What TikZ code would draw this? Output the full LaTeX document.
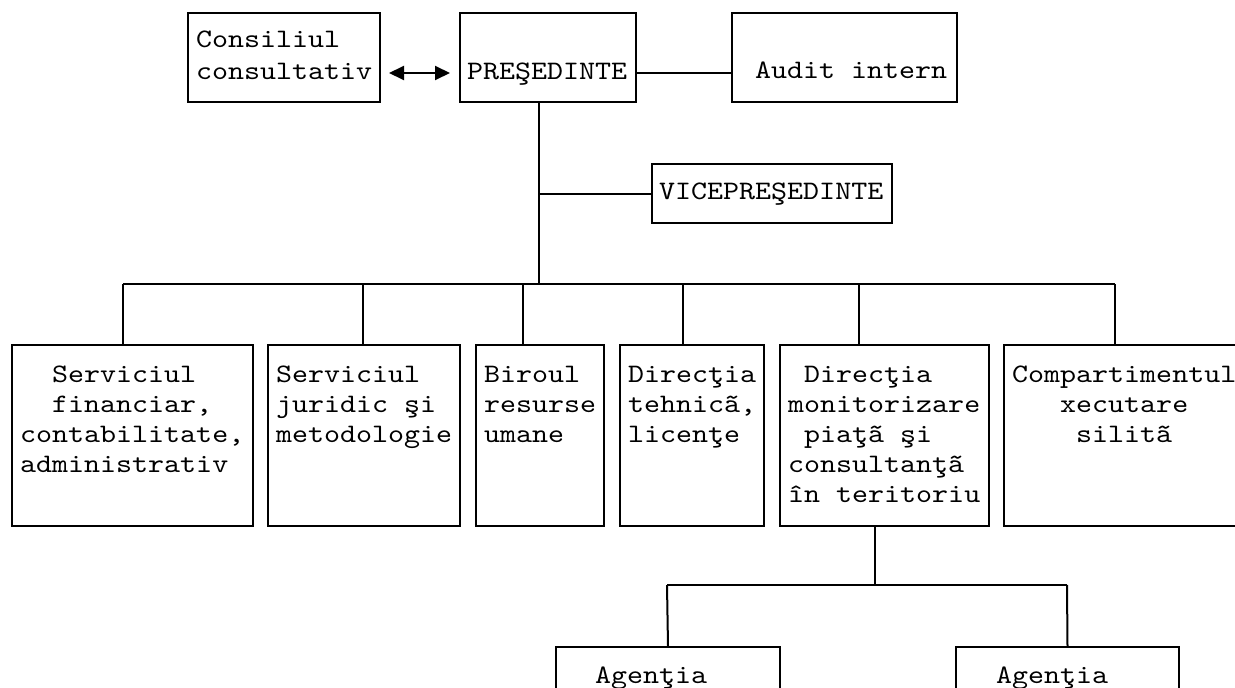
\documentclass[tikz,border=0pt]{standalone}
\usepackage{fontspec}
\setmainfont{lmmono10-regular.otf}[FakeStretch=1.143]
\usetikzlibrary{arrows.meta}
\newcommand\fzA{\fontsize{26.67bp}{31.5bp}\selectfont}
\newcommand\fzB{\fontsize{26.67bp}{30bp}\selectfont}
\newcommand\ml[1]{\begin{tabular}[t]{@{}l@{}}#1\end{tabular}}
\tikzset{
  box/.style={draw, line width=2bp, inner sep=0pt, anchor=north west},
  conn/.style={line width=2bp},
  txtA/.style={anchor=base west, inner sep=0pt, font=\fzA},
  txtB/.style={anchor=base west, inner sep=0pt, font=\fzB},
}
\begin{document}
\begin{tikzpicture}[x=1bp,y=-1bp]
\useasboundingbox (0,0) rectangle (1235,688);
\clip (0,0) rectangle (1235,688);
% boxes
\node[box, minimum width=192bp, minimum height=89bp] (cons) at (187,12) {};
\node[box, minimum width=176bp, minimum height=89bp] (pres) at (459,12) {};
\node[box, minimum width=225bp, minimum height=89bp] (audit) at (731,12) {};
\node[box, minimum width=240bp, minimum height=59bp] (vice) at (651,163) {};
\node[box, minimum width=241bp, minimum height=181bp] (b1) at (11,344) {};
\node[box, minimum width=192bp, minimum height=181bp] (b2) at (267,344) {};
\node[box, minimum width=128bp, minimum height=181bp] (b3) at (475,344) {};
\node[box, minimum width=144bp, minimum height=181bp] (b4) at (619,344) {};
\node[box, minimum width=209bp, minimum height=181bp] (b5) at (779,344) {};
\node[box, minimum width=260bp, minimum height=181bp] (b6) at (1003,344) {};
\node[box, minimum width=224bp, minimum height=100bp] (ag1) at (555,646) {};
\node[box, minimum width=223bp, minimum height=100bp] (ag2) at (955,646) {};
% texts
\node[txtA] (cons-t) at (196,48) {\ml{Consiliul\\consultativ}};
\node[txtA] (pres-t) at (467,80) {PREŞEDINTE};
\node[txtA] (audit-t) at (755,79) {Audit intern};
\node[txtA] (vice-t) at (659,200) {VICEPREŞEDINTE};
\node[txtB] (b1-t) at (20,382) {\ml{\hphantom{xx}Serviciul\\\hphantom{xx}financiar,\\contabilitate,\\administrativ}};
\node[txtB] (b2-t) at (276,382) {\ml{Serviciul\\juridic şi\\metodologie}};
\node[txtB] (b3-t) at (484,382) {\ml{Biroul\\resurse\\umane}};
\node[txtB] (b4-t) at (628,382) {\ml{Direcţia\\tehnicã,\\licenţe}};
\node[txtB] (b5-t) at (788,382) {\ml{\hphantom{x}Direcţia\\monitorizare\\\hphantom{x}piaţã şi\\consultanţã\\în teritoriu}};
\node[txtB] (b6-t) at (1012,382) {\ml{Compartimentul\\\hphantom{xxx}xecutare\\\hphantom{xxxx}silitã}};
\node[txtB] (ag1-t) at (595,683) {Agenţia};
\node[txtB] (ag2-t) at (996,683) {Agenţia};
% junction coordinates
\coordinate (j0) at (539,284);
\coordinate (vj) at (j0 |- vice.west);
\coordinate (busL) at (123,284);
\coordinate (busR) at (1115,284);
\coordinate (d2) at (363,284);
\coordinate (d3) at (523,284);
\coordinate (d4) at (683,284);
\coordinate (d5) at (859,284);
\coordinate (s0) at (875,585);
\coordinate (subL) at (667,585);
\coordinate (subR) at (1067,585);
% connectors
\draw[conn, {Triangle[length=15bp,width=14bp]}-{Triangle[length=15bp,width=14bp]}, shorten <=8bp, shorten >=9bp]
  ([yshift=-15.5bp]cons.east) -- ([yshift=-15.5bp]pres.west);
\draw[conn] ([yshift=-15.5bp]pres.east) -- ([yshift=-15.5bp]audit.west);
\draw[conn] (j0 |- pres.south) -- (j0);
\draw[conn] (vj) -- (vice.west);
\draw[conn] (busL) -- (busR);
\draw[conn] (busL) -- (busL |- b1.north);
\draw[conn] (d2) -- (d2 |- b2.north);
\draw[conn] (d3) -- (d3 |- b3.north);
\draw[conn] (d4) -- (d4 |- b4.north);
\draw[conn] (d5) -- (d5 |- b5.north);
\draw[conn] (busR) -- (busR |- b6.north);
\draw[conn] (s0 |- b5.south) -- (s0);
\draw[conn] (subL) -- (subR);
\draw[conn] (subL) -- (ag1.north);
\draw[conn] (subR) -- (ag2.north);
\end{tikzpicture}
\end{document}
